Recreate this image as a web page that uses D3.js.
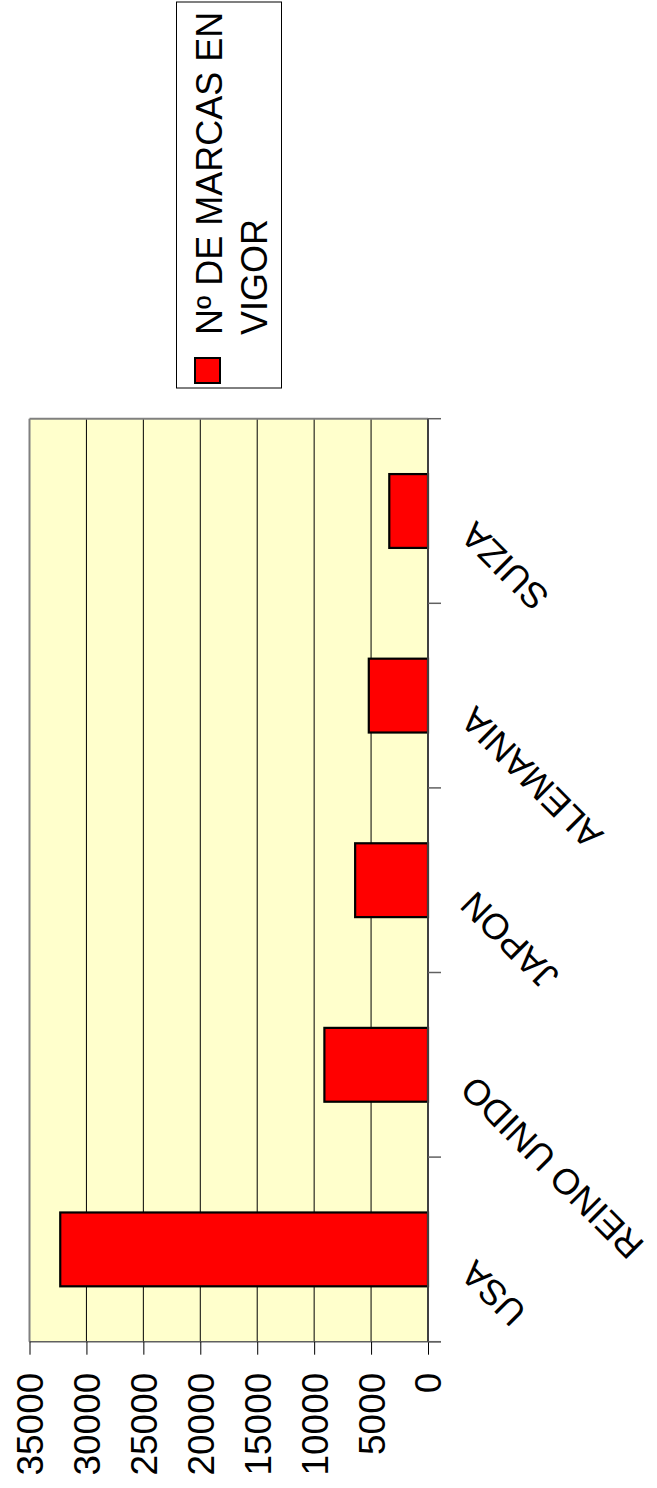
<!DOCTYPE html>
<html>
<head>
<meta charset="utf-8">
<script src="https://d3js.org/d3.v7.min.js"></script>
<style>
  body { margin: 0; background: #fff; }
  text { font-family: Arial, "Liberation Sans", sans-serif; fill: #000; }
</style>
</head>
<body>
<script>
// Trademark counts by country (chart is drawn rotated, values grow to the left)
const categories = ['USA', 'REINO UNIDO', 'JAPON', 'ALEMANIA', 'SUIZA'];
const values = [32300, 9100, 6400, 5200, 3400];
const valueTicks = [0, 5000, 10000, 15000, 20000, 25000, 30000, 35000];
const seriesName = ['Nº DE MARCAS EN', 'VIGOR'];

const width = 657;
const height = 1488;

// plot area
const plotLeft = 29.5, plotRight = 428, plotTop = 418.7, plotBottom = 1341.7;

const svg = d3.select('body').append('svg')
  .attr('width', width)
  .attr('height', height);

const x = d3.scaleLinear()
  .domain([0, 35000])
  .range([plotRight, plotLeft]);

const y = d3.scaleBand()
  .domain(categories)
  .range([plotBottom, plotTop])
  .paddingInner(0.6)
  .paddingOuter(0.3);

// background
svg.append('rect')
  .attr('x', plotLeft).attr('y', plotTop)
  .attr('width', plotRight - plotLeft).attr('height', plotBottom - plotTop)
  .attr('fill', '#FFFFCC');

// gridlines
svg.append('g')
  .selectAll('line')
  .data(valueTicks.filter(d => d > 0 && d < 35000))
  .enter().append('line')
  .attr('x1', d => x(d)).attr('x2', d => x(d))
  .attr('y1', plotTop).attr('y2', plotBottom)
  .attr('stroke', '#000')
  .attr('stroke-width', 1);

// plot frame (left and top in gray)
svg.append('line')
  .attr('x1', plotLeft).attr('x2', plotLeft).attr('y1', plotTop).attr('y2', plotBottom)
  .attr('stroke', '#808080').attr('stroke-width', 2);
svg.append('line')
  .attr('x1', plotLeft).attr('x2', plotRight).attr('y1', plotTop).attr('y2', plotTop)
  .attr('stroke', '#808080').attr('stroke-width', 2);

// bars
svg.append('g')
  .selectAll('rect')
  .data(categories)
  .enter().append('rect')
  .attr('x', (d, i) => x(values[i]))
  .attr('y', d => y(d))
  .attr('width', (d, i) => x(0) - x(values[i]))
  .attr('height', y.bandwidth())
  .attr('fill', '#FF0000')
  .attr('stroke', '#000')
  .attr('stroke-width', 2.2);

// value axis along the bottom
const xAxis = svg.append('g')
  .attr('transform', `translate(0,${plotBottom})`)
  .call(d3.axisBottom(x)
    .tickValues(valueTicks)
    .tickSize(13)
    .tickSizeOuter(0)
    .tickFormat(d => d));
xAxis.select('.domain')
  .attr('d', `M${plotLeft},0H${plotRight + 13}`)
  .attr('stroke', '#606060')
  .attr('stroke-width', 1.5);
xAxis.selectAll('.tick line').attr('stroke', '#000');
xAxis.selectAll('.tick text')
  .attr('x', 0).attr('y', 0).attr('dy', '0.35em')
  .attr('transform', 'translate(0,31) rotate(-90)')
  .attr('text-anchor', 'end')
  .style('font-size', '37px')
  .style('font-family', 'Arial, "Liberation Sans", sans-serif');

// category axis on the right
svg.append('line')
  .attr('x1', plotRight).attr('x2', plotRight).attr('y1', plotTop).attr('y2', plotBottom)
  .attr('stroke', '#404040').attr('stroke-width', 2);

const bounds = categories.map(d => y(d) + y.bandwidth() / 2 + y.step() / 2)
  .concat([plotTop]);
svg.append('g')
  .selectAll('line')
  .data(bounds)
  .enter().append('line')
  .attr('x1', plotRight).attr('x2', plotRight + 13)
  .attr('y1', d => d).attr('y2', d => d)
  .attr('stroke', '#606060')
  .attr('stroke-width', 1.5);

svg.append('g')
  .selectAll('text')
  .data(categories)
  .enter().append('text')
  .attr('transform', d => `translate(467,${y(d) + y.bandwidth() / 2 + 18}) rotate(-135)`)
  .attr('text-anchor', 'end')
  .attr('dy', '0.35em')
  .style('font-size', '36px')
  .text(d => d);

// legend
const legend = svg.append('g');
legend.append('rect')
  .attr('x', 176.5).attr('y', 2)
  .attr('width', 105).attr('height', 386)
  .attr('fill', '#fff')
  .attr('stroke', '#000')
  .attr('stroke-width', 1);
legend.append('rect')
  .attr('x', 195).attr('y', 358)
  .attr('width', 25).attr('height', 25)
  .attr('fill', '#FF0000')
  .attr('stroke', '#000')
  .attr('stroke-width', 2);
const legendText = legend.append('text')
  .attr('transform', 'translate(222,335) rotate(-90)')
  .style('font-size', '36px');
legendText.selectAll('tspan')
  .data(seriesName)
  .enter().append('tspan')
  .attr('x', 0)
  .attr('dy', (d, i) => i === 0 ? 0 : 45)
  .text(d => d);
</script>
</body>
</html>
